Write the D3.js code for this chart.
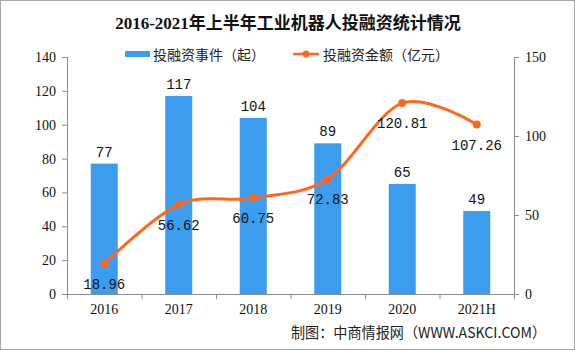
<!DOCTYPE html>
<html><head><meta charset="utf-8">
<script src="https://cdn.jsdelivr.net/npm/d3@7"></script>
<style>body{margin:0;background:#fff}svg{display:block}</style>
</head><body>
<svg id="c" width="575" height="350"></svg>
<script>
const categories = ["2016","2017","2018","2019","2020","2021H"];
const events = [77,117,104,89,65,49];
const amounts = [18.96,56.62,60.75,72.83,120.81,107.26];
const leftTicks = [0,20,40,60,80,100,120,140];
const rightTicks = [0,50,100,150];
const title = "2016-2021年上半年工业机器人投融资统计情况";
const legendLabels = ["投融资事件（起）","投融资金额（亿元）"];
const source = "制图：中商情报网（WWW.ASKCI.COM）";

const svg = d3.select("#c");
const W=575,H=350;
const m={l:67,r:61,t:57,b:56};
const x0=m.l,x1=W-m.r,y0=H-m.b,y1=m.t;
const serif="'Liberation Serif','Times New Roman',serif";
const cjk="'Noto Sans CJK SC','Noto Sans',sans-serif";
const mono="'Liberation Mono','DejaVu Sans Mono',monospace";
const blue="#3c9def", orange="#ff671c", axisCol="#8c8c8c";

svg.append("rect").attr("x",0.5).attr("y",0.5).attr("width",W-1).attr("height",H-1).attr("fill","#fff").attr("stroke","#a6a6a6");

const x=d3.scaleBand().domain(categories).range([x0,x1]).paddingInner(0).paddingOuter(0);
const yL=d3.scaleLinear().domain([0,140]).range([y0,y1]);
const yR=d3.scaleLinear().domain([0,150]).range([y0,y1]);

// title
svg.append("text").attr("x",288).attr("y",29).attr("text-anchor","middle")
  .attr("font-family",serif+","+cjk).attr("font-weight","bold").attr("font-size",17).attr("fill","#111").text(title);

// legend
const lg=svg.append("g");
lg.append("rect").attr("x",125).attr("y",51).attr("width",25).attr("height",6).attr("fill",blue);
lg.append("text").attr("x",153).attr("y",60).attr("font-family",cjk).attr("font-size",14).attr("fill","#222").text(legendLabels[0]);
lg.append("line").attr("x1",293).attr("x2",319).attr("y1",54).attr("y2",54).attr("stroke",orange).attr("stroke-width",2.5);
lg.append("circle").attr("cx",306).attr("cy",54).attr("r",3.5).attr("fill",orange);
lg.append("text").attr("x",323).attr("y",60).attr("font-family",cjk).attr("font-size",14).attr("fill","#222").text(legendLabels[1]);

// axes
const axL=d3.axisLeft(yL).tickValues(leftTicks).tickSize(5).tickPadding(6);
const gL=svg.append("g").attr("transform",`translate(${x0},0)`).call(axL);
const axR=d3.axisRight(yR).tickValues(rightTicks).tickSize(5).tickPadding(6);
const gR=svg.append("g").attr("transform",`translate(${x1},0)`).call(axR);
const axB=d3.axisBottom(x).tickSize(0).tickPadding(10);
const gB=svg.append("g").attr("transform",`translate(0,${y0})`).call(axB);
// category separators
const seps=categories.map((c,i)=>x(c)).concat([x1]);
gB.selectAll(".sep").data(seps).enter().append("line").attr("class","sep")
  .attr("x1",d=>d+0.5).attr("x2",d=>d+0.5).attr("y1",0).attr("y2",5).attr("stroke",axisCol);
[gL,gR,gB].forEach(g=>{
  g.select(".domain").attr("stroke",axisCol).attr("stroke-width",1);
  g.selectAll(".tick line").attr("stroke",axisCol);
  g.selectAll("text").attr("font-family",serif).attr("font-size",14).attr("fill","#111");
});
gB.select(".domain").attr("d",`M${x0-5},0.5H${x1+5}`);
gL.select(".domain").attr("d",`M0.5,${y1}V${y0}`);
gR.select(".domain").attr("d",`M0.5,${y1}V${y0}`);

// bars
const bw=27;
svg.append("g").selectAll("rect").data(events).enter().append("rect")
  .attr("x",(d,i)=>x(categories[i])+x.bandwidth()/2-bw/2)
  .attr("width",bw).attr("y",d=>yL(d)).attr("height",d=>y0-yL(d)).attr("fill",blue);
svg.append("g").selectAll("text").data(events).enter().append("text")
  .attr("x",(d,i)=>x(categories[i])+x.bandwidth()/2).attr("y",d=>yL(d)-7)
  .attr("text-anchor","middle").attr("font-family",mono).attr("font-size",14).attr("fill","#111").text(d=>d);

// line
const pts=amounts.map((v,i)=>[x(categories[i])+x.bandwidth()/2,yR(v)]);
svg.append("path").datum(pts).attr("d",d3.line().curve(d3.curveCatmullRom.alpha(0))).attr("fill","none")
  .attr("stroke",orange).attr("stroke-width",3);
svg.append("g").selectAll("circle").data(pts).enter().append("circle")
  .attr("cx",d=>d[0]).attr("cy",d=>d[1]).attr("r",4).attr("fill",orange);
svg.append("g").selectAll("text").data(amounts).enter().append("text")
  .attr("x",(d,i)=>pts[i][0]).attr("y",(d,i)=>pts[i][1]+25)
  .attr("text-anchor","middle").attr("font-family",mono).attr("font-size",14).attr("fill","#111").text(d=>d.toFixed(2));

// source
svg.append("text").attr("x",291).attr("y",338)
  .attr("textLength",255).attr("lengthAdjust","spacingAndGlyphs")
  .attr("font-family",cjk).attr("font-size",14.5).attr("fill","#222").text(source);
</script>
</body></html>
